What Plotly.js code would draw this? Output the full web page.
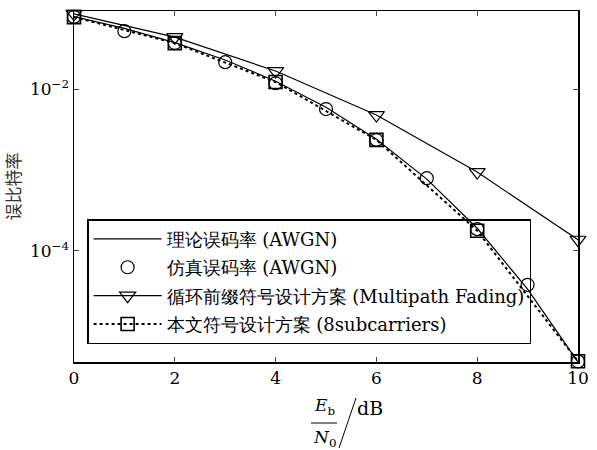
<!DOCTYPE html>
<html>
<head>
<meta charset="utf-8">
<script src="https://cdn.plot.ly/plotly-3.0.1.min.js"></script>
<style>body{margin:0;background:#fff;}#chart{width:597px;height:450px;}</style>
</head>
<body>
<div id="chart"></div>
<script>
// Eb/N0 (dB)
var snrAll = [0, 1, 2, 3, 4, 5, 6, 7, 8, 9, 10];
var snrEven = [0, 2, 4, 6, 8, 10];
// theoretical BER (AWGN)
var berTheory = [0.0786, 0.0563, 0.0375, 0.0229, 0.0125, 0.00595, 0.00239, 0.00077, 0.00019, 0.0000336, 0.0000042];
// simulated BER (AWGN)
var berSim = [0.078, 0.052, 0.037, 0.0215, 0.0118, 0.00566, 0.00235, 0.00079, 0.000185, 0.000038, 0.0000043];
// cyclic prefix design (multipath fading)
var berCP = [0.085, 0.0438, 0.0167, 0.00477, 0.00094, 0.000137];
// proposed design (8 subcarriers)
var berProp = [0.0775, 0.037, 0.0122, 0.00235, 0.000177, 0.0000043];

var names = ['理论误码率 (AWGN)', '仿真误码率 (AWGN)', '循环前缀符号设计方案 (Multipath Fading)', '本文符号设计方案 (8subcarriers)'];
var yTickVals = [1e-4, 1e-2];
var yTickText = ['10<sup>−4</sup>', '10<sup>−2</sup>'];
var xTickVals = [0, 2, 4, 6, 8, 10];

var serif = 'DejaVu Serif';

var traces = [
  {x: snrAll, y: berTheory, name: names[0], mode: 'lines', line: {color: '#000', width: 1.2}, legendgroup: 'a', cliponaxis: false},
  {x: snrAll, y: berSim, name: names[1], mode: 'markers', marker: {symbol: 'circle-open', size: 13, color: '#000', line: {width: 1.2}}, legendgroup: 'b', cliponaxis: false},
  {x: snrEven, y: berCP, name: names[2], mode: 'lines+markers', line: {color: '#000', width: 1.2}, marker: {symbol: 'triangle-down-open', size: 14, color: '#000', line: {width: 1.2}}, legendgroup: 'c', cliponaxis: false},
  {x: snrEven, y: berProp, name: names[3], mode: 'lines+markers', line: {color: '#000', width: 2, dash: 'dot'}, marker: {symbol: 'square-open', size: 13, color: '#000', line: {width: 1.6}}, legendgroup: 'd', cliponaxis: false}
];

var layout = {
  width: 597, height: 450,
  margin: {l: 74, r: 19, t: 11, b: 88},
  paper_bgcolor: '#fff', plot_bgcolor: '#fff',
  font: {family: serif, size: 17, color: '#000'},
  showlegend: true,
  legend: {
    x: 0.026, y: 0.407, xanchor: 'left', yanchor: 'top',
    bgcolor: 'rgba(255,255,255,0)', bordercolor: '#000', borderwidth: 1.5,
    font: {family: serif, size: 18, color: '#000'},
    traceorder: 'grouped', tracegroupgap: 2, itemwidth: 68
  },
  xaxis: {
    range: [0, 10], tickvals: xTickVals, ticks: 'inside', ticklen: 5, tickwidth: 1,
    showline: true, linewidth: 1.5, linecolor: '#000', mirror: 'ticks',
    showgrid: false, zeroline: false, tickfont: {family: serif, size: 17, color: '#000'}
  },
  yaxis: {
    type: 'log', range: [-5.375, -1.035], tickvals: yTickVals, ticktext: yTickText,
    ticks: 'inside', ticklen: 5, tickwidth: 1,
    showline: true, linewidth: 1.5, linecolor: '#000', mirror: 'ticks',
    showgrid: false, zeroline: false, tickfont: {family: serif, size: 17, color: '#000'},
    title: {text: '误比特率', font: {family: 'Noto Sans CJK SC', size: 17, color: '#333'}, standoff: 14}
  },
  annotations: [
    {xref: 'paper', yref: 'paper', x: (324 - 74) / 504, y: (362 - 420) / 351, yanchor: 'bottom', text: '<i>E</i><sub>b</sub>', showarrow: false, font: {family: serif, size: 17, color: '#000'}},
    {xref: 'paper', yref: 'paper', x: (324 - 74) / 504, y: (362 - 425) / 351, yanchor: 'top', text: '<i>N</i><sub>0</sub>', showarrow: false, font: {family: serif, size: 17, color: '#000'}},
    {xref: 'paper', yref: 'paper', x: (370 - 74) / 504, y: (362 - 421) / 351, text: 'dB', showarrow: false, font: {family: serif, size: 19, color: '#000'}}
  ],
  shapes: [
    {type: 'line', xref: 'paper', yref: 'paper', x0: (311 - 74) / 504, x1: (337 - 74) / 504, y0: (362 - 423) / 351, y1: (362 - 423) / 351, line: {color: '#000', width: 1}},
    {type: 'line', xref: 'paper', yref: 'paper', x0: (339 - 74) / 504, x1: (356 - 74) / 504, y0: (362 - 448) / 351, y1: (362 - 398) / 351, line: {color: '#000', width: 1}}
  ]
};

Plotly.newPlot('chart', traces, layout, {displayModeBar: false, staticPlot: true});
</script>
</body>
</html>
